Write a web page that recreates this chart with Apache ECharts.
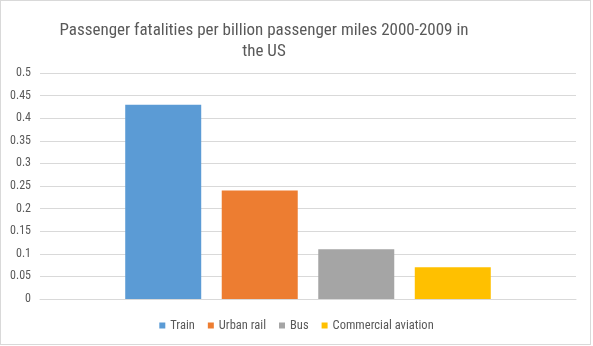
<!DOCTYPE html>
<html><head><meta charset="utf-8">
<script src="https://cdn.jsdelivr.net/npm/echarts@6/dist/echarts.min.js"></script>
<style>html,body{margin:0;padding:0;background:#fff;}
#wrap{position:absolute;left:0;top:0;width:591px;height:345px;border:1px solid #d9d9d9;box-sizing:border-box;}
#c{position:absolute;left:0;top:0;width:593px;height:346px;}</style>
</head><body><div id="wrap"></div><div id="c"></div>
<script>
const titleText = 'Passenger fatalities per billion passenger miles 2000-2009 in\nthe US';
const seriesNames = ['Train', 'Urban rail', 'Bus', 'Commercial aviation'];
const seriesValues = [0.43, 0.24, 0.11, 0.07];
const colors = ['#5b9bd5', '#ed7d31', '#a5a5a5', '#ffc000'];
const font = "'Liberation Sans Narrow', 'Roboto Condensed', Roboto, sans-serif";

const chart = echarts.init(document.getElementById('c'), null, {renderer: 'canvas'});
chart.setOption({
  animation: false,
  title: {
    text: titleText, left: 259, top: 15, textAlign: 'center',
    textStyle: {fontFamily: font, fontSize: 17, fontWeight: 'normal', color: '#595959', lineHeight: 21}
  },
  grid: {left: 40, right: 17, top: 73, bottom: 47},
  legend: {
    data: seriesNames, bottom: 9, left: 'center', itemWidth: 6, itemHeight: 6, itemGap: 13,
    icon: 'rect', textStyle: {fontFamily: font, fontSize: 12.5, color: '#595959'}
  },
  xAxis: {
    type: 'category', data: [''],
    axisLine: {lineStyle: {color: '#d9d9d9'}}, axisTick: {show: false}, axisLabel: {show: false}
  },
  yAxis: {
    type: 'value', min: 0, max: 0.5, interval: 0.05,
    axisLine: {show: false}, axisTick: {show: false},
    axisLabel: {fontFamily: font, fontSize: 12, color: '#595959', margin: 9},
    splitLine: {lineStyle: {color: '#d9d9d9'}}
  },
  series: seriesNames.map((n, i) => ({
    name: n, type: 'bar', data: [seriesValues[i]], barWidth: 76, barGap: '27%',
    itemStyle: {color: colors[i]}
  }))
});
</script></body></html>
